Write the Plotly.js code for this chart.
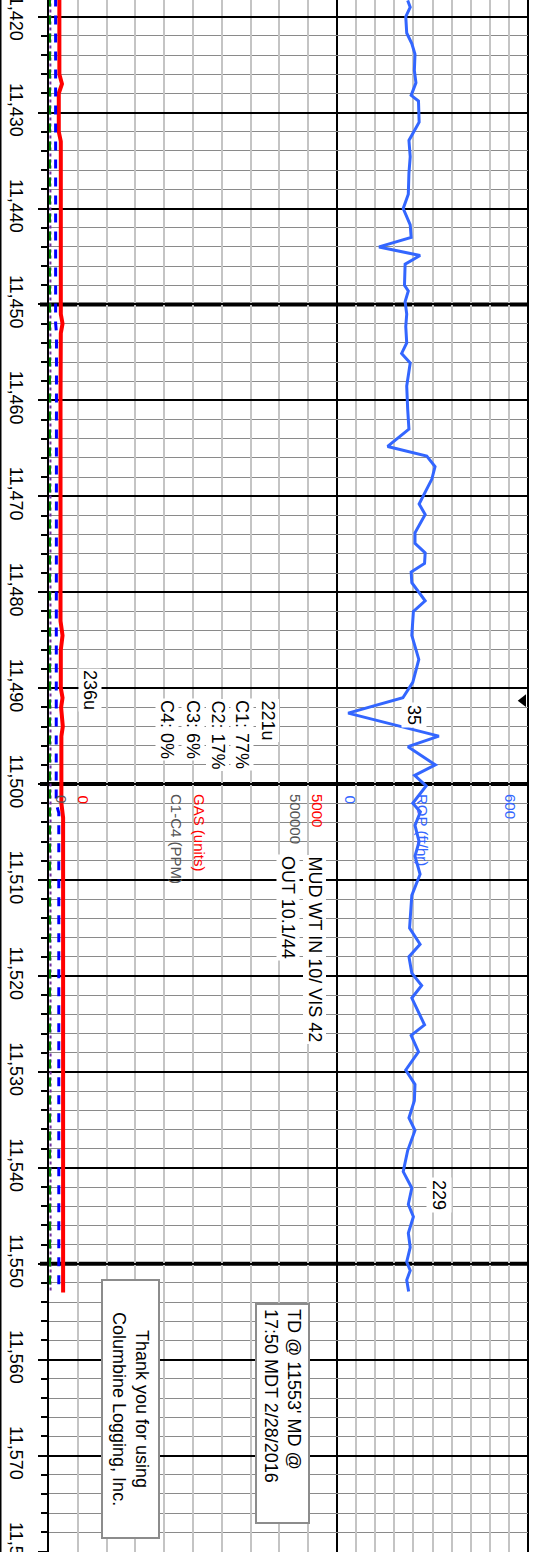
<!DOCTYPE html>
<html><head><meta charset="utf-8">
<script src="https://cdn.plot.ly/plotly-3.0.1.min.js"></script>
<style>html,body{margin:0;padding:0;background:#fff;}#chart{width:539px;height:1552px;}</style>
</head><body><div id="chart"></div>
<script>
const depthTickVals = [11420,11430,11440,11450,11460,11470,11480,11490,11500,11510,11520,11530,11540,11550,11560,11570,11580];
const depthTickText = ['11,420','11,430','11,440','11,450','11,460','11,470','11,480','11,490','11,500','11,510','11,520','11,530','11,540','11,550','11,560','11,570','11,580'];
const heavyDepths = [11450, 11500, 11550];

const ropDepth = [11418.3,11419.0,11420.0,11421.7,11422.8,11423.9,11425.6,11426.9,11428.2,11428.8,11431.0,11432.9,11434.6,11436.3,11438.5,11440.0,11441.7,11443.0,11444.0,11444.9,11445.8,11448.0,11448.6,11449.7,11451.0,11452.3,11454.0,11455.1,11456.1,11458.5,11460.9,11463.0,11464.8,11465.8,11466.9,11468.2,11470.8,11471.9,11473.8,11474.9,11475.9,11477.0,11477.9,11479.0,11480.9,11482.0,11484.5,11487.0,11489.4,11491.0,11492.6,11494.0,11495.0,11496.1,11498.0,11499.1,11500.2,11502.0,11502.9,11504.3,11506.0,11507.5,11509.4,11511.6,11515.0,11516.7,11518.0,11519.7,11521.0,11522.3,11525.1,11526.2,11527.9,11529.8,11531.3,11533.0,11534.8,11536.1,11538.2,11540.4,11542.1,11543.8,11545.1,11546.8,11548.3,11549.8,11550.7,11551.7,11552.9];
const ropValue = [222,230,216,219,235,245,243,248,233,256,258,226,230,226,224,208,230,233,132,261,214,212,224,214,219,216,219,203,230,219,222,226,159,282,308,298,258,277,245,245,277,275,233,235,277,240,235,257,238,207,35,207,320,223,309,244,280,238,262,245,258,245,261,235,228,261,226,235,266,235,275,233,256,216,245,243,226,245,222,208,235,224,240,224,230,219,230,219,225];

const gasDepth = [11418,11426,11427,11428,11432,11433,11440,11451,11452,11453,11460,11470,11483,11484.5,11486,11490,11491,11492,11494,11495,11502,11503.5,11510,11520,11530,11540,11553];
const gasTotal = [180,180,225,170,170,205,205,205,235,205,200,200,200,235,205,205,235,210,240,215,215,245,245,245,245,245,245];

const chromDepth = [11418,11440,11452,11453,11464,11465,11490,11491,11502,11503,11520,11540,11553];
const c1Value = [11500,11500,11500,13000,13000,12000,12000,12500,12500,17000,17000,17000,17000];
const c2Value = [1700,1700,1700,1700,1700,1700,1700,1700,1700,1800,1800,1800,1800];
const c3Value = [2400,2400,2400,2400,2400,2400,2400,2400,2400,2800,2800,2800,2800];

const markerDepth = [11491.3];
const markerRop = [585];

const FONT = 'Liberation Sans, Arial, sans-serif';
const TOP = 11418.26, BOT = 11580.05;
const L = 49, PW = 479;
const px = v => (v - L) / PW;

const traces = [
  {x: gasTotal, y: gasDepth, xaxis: 'x', yaxis: 'y', mode: 'lines', line: {color: '#ff0000', width: 4}, hoverinfo: 'skip'},
  {x: c3Value, y: chromDepth, xaxis: 'x3', yaxis: 'y', mode: 'lines', line: {color: '#7030a0', width: 2, dash: 'dot'}, hoverinfo: 'skip'},
  {x: c2Value, y: chromDepth, xaxis: 'x3', yaxis: 'y', mode: 'lines', line: {color: '#008000', width: 2, dash: 'dash'}, hoverinfo: 'skip'},
  {x: c1Value, y: chromDepth, xaxis: 'x3', yaxis: 'y', mode: 'lines', line: {color: '#0000ff', width: 3, dash: 'dash'}, hoverinfo: 'skip'},
  {x: ropValue, y: ropDepth, xaxis: 'x2', yaxis: 'y', mode: 'lines', line: {color: '#3366ff', width: 3}, hoverinfo: 'skip'},
  {x: markerRop, y: markerDepth, xaxis: 'x2', yaxis: 'y', mode: 'markers', marker: {symbol: 'triangle-left', size: 11, color: '#000'}, hoverinfo: 'skip'}
];

function rot(text, x, y, opts) {
  return Object.assign({text: text, xref: 'paper', yref: 'y', x: px(x), y: y, showarrow: false, textangle: 90,
    font: {family: FONT, size: 18, color: '#000'}, xanchor: 'center', yanchor: 'top'}, opts || {});
}
const dep = p => TOP + p * (BOT - TOP) / 1552;
const NB = '&nbsp;';

const annotations = [
  rot('236u', 90, dep(668), {bgcolor: '#fff', borderpad: 1}),
  rot('221u', 267.5, dep(698), {bgcolor: '#fff', borderpad: 1}),
  rot('C1: 77%', 242.5, dep(698), {bgcolor: '#fff', borderpad: 1}),
  rot('C2: 17%', 218, dep(698), {bgcolor: '#fff', borderpad: 1}),
  rot('C3: 6%', 193.5, dep(698), {bgcolor: '#fff', borderpad: 1}),
  rot('C4: 0%', 167.5, dep(698), {bgcolor: '#fff', borderpad: 1}),
  rot('35', 414, dep(715), {bgcolor: '#fff', borderpad: 2, yanchor: 'middle'}),
  rot('229', 439, dep(1195), {bgcolor: '#fff', borderpad: 2, yanchor: 'middle'}),
  rot('MUD WT IN 10/ VIS 42', 314.5, dep(854), {bgcolor: '#fff', borderpad: 1}),
  rot('OUT 10.1/44', 288.5, dep(854), {bgcolor: '#fff', borderpad: 1}),
  rot('TD @ 11553\' MD @<br>17:50 MDT 2/28/2016' + NB.repeat(7), 282.5, dep(1303), {bgcolor: '#fff', bordercolor: '#8c8c8c', borderwidth: 2, borderpad: 4, align: 'left'}),
  rot(NB.repeat(5) + 'Thank you for using' + NB.repeat(5) + '<br>' + NB.repeat(5) + 'Columbine Logging, Inc.' + NB.repeat(5), 131, dep(1409), {bgcolor: '#fff', bordercolor: '#8c8c8c', borderwidth: 2, borderpad: 6, align: 'center', yanchor: 'middle'}),
  rot('0', 83.5, dep(793), {font: {family: FONT, size: 15, color: '#ff0000'}}),
  rot('0', 62, dep(793), {font: {family: FONT, size: 15, color: '#555'}}),
  rot('5000', 317.5, dep(792), {font: {family: FONT, size: 15, color: '#ff0000'}}),
  rot('500000', 296, dep(792), {font: {family: FONT, size: 15, color: '#555'}}),
  rot('GAS (units)', 200, dep(792), {font: {family: FONT, size: 15, color: '#ff0000'}}),
  rot('C1-C4 (PPM)', 177, dep(792), {font: {family: FONT, size: 15, color: '#555'}}),
  rot('0', 350.5, dep(793), {font: {family: FONT, size: 15, color: '#3366ff'}}),
  rot('600', 510.5, dep(792), {font: {family: FONT, size: 15, color: '#3366ff'}}),
  rot('ROP (ft/hr)', 423, dep(792), {font: {family: FONT, size: 15, color: '#3366ff'}})
];

const shapes = [];
heavyDepths.forEach(d => shapes.push({type: 'line', xref: 'paper', yref: 'y', x0: px(40), x1: 1, y0: d, y1: d, line: {color: '#000', width: 4}, layer: 'below'}));
shapes.push({type: 'line', xref: 'paper', yref: 'paper', x0: px(337), x1: px(337), y0: 0, y1: 1, line: {color: '#000', width: 2}, layer: 'below'});
shapes.push({type: 'line', xref: 'paper', yref: 'paper', x0: 1, x1: 1, y0: 0, y1: 1, line: {color: '#000', width: 2}, layer: 'below'});
shapes.push({type: 'line', xref: 'paper', yref: 'paper', x0: px(0.5), x1: px(0.5), y0: 0, y1: 1, line: {color: '#000', width: 2}, layer: 'below'});

const gridX = {showgrid: true, gridcolor: '#c4c4c4', gridwidth: 2, zeroline: false, showticklabels: false, ticks: '', showline: false, fixedrange: true};
const layout = {
  width: 539, height: 1552,
  margin: {l: L, r: 539 - L - PW, t: 0, b: 0, pad: 0},
  paper_bgcolor: '#fff', plot_bgcolor: '#fff',
  showlegend: false,
  font: {family: FONT, size: 18, color: '#000'},
  xaxis: Object.assign({domain: [0, px(337)], range: [0, 5000], tickmode: 'linear', tick0: 0, dtick: 500, anchor: 'y'}, gridX),
  xaxis2: Object.assign({domain: [px(337), 1], range: [0, 600], tickmode: 'linear', tick0: 0, dtick: 60, anchor: 'y'}, gridX),
  xaxis3: {overlaying: 'x', range: [0, 500000], visible: false, showgrid: false, zeroline: false, anchor: 'y'},
  yaxis: {
    range: [BOT, TOP], tickmode: 'array', tickvals: depthTickVals, ticktext: depthTickText,
    ticks: 'outside', ticklen: 9, tickwidth: 2, tickcolor: '#000', tickangle: 90, ticklabeloverflow: 'allow',
    tickfont: {family: FONT, size: 18, color: '#000'}, ticklabelstandoff: 6,
    showgrid: true, gridcolor: '#000', gridwidth: 2, zeroline: false,
    showline: true, linecolor: '#000', linewidth: 2,
    minor: {tickmode: 'linear', tick0: 11420, dtick: 2, ticks: 'outside', ticklen: 6, tickwidth: 2, tickcolor: '#000', showgrid: true, gridcolor: '#8a8a8a', gridwidth: 1},
    fixedrange: true
  },
  annotations: annotations,
  shapes: shapes
};
Plotly.newPlot('chart', traces, layout, {staticPlot: true, displayModeBar: false});
</script></body></html>
